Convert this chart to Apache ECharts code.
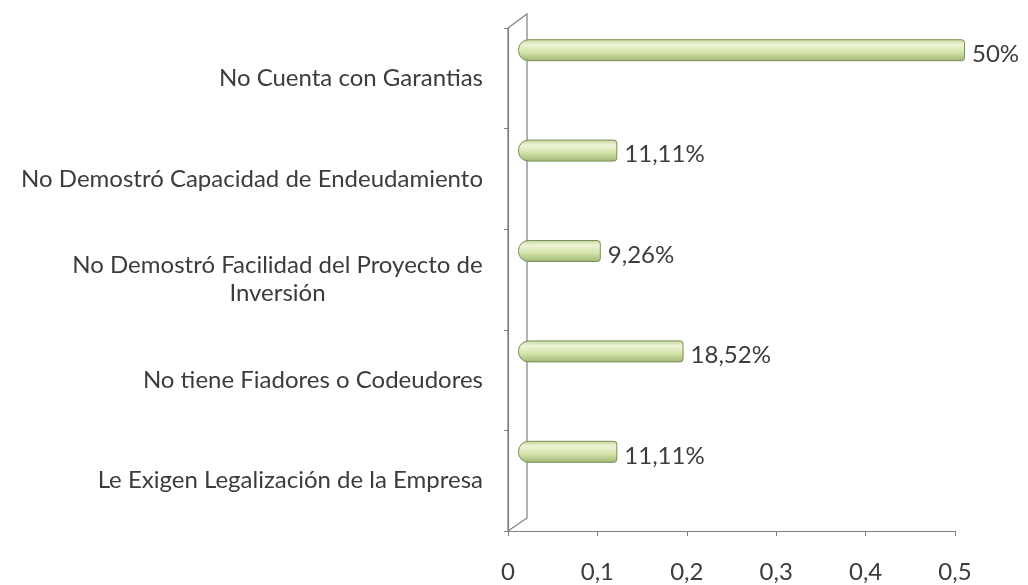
<!DOCTYPE html>
<html>
<head>
<meta charset="utf-8">
<script src="https://cdn.jsdelivr.net/npm/echarts@6/dist/echarts.min.js"></script>
<style>
  html, body { margin: 0; padding: 0; background: #fff; }
  #chart { width: 1028px; height: 585px; }
</style>
</head>
<body>
<div id="chart"></div>
<script>
// categories, top to bottom
const categories = [
  "No Cuenta con Garantias",
  "No Demostró Capacidad de Endeudamiento",
  "No Demostró Facilidad del Proyecto de\nInversión",
  "No tiene Fiadores o Codeudores",
  "Le Exigen Legalización de la Empresa"
];
const values = [0.5, 0.1111, 0.0926, 0.1852, 0.1111];
const tickValues = [0, 0.1, 0.2, 0.3, 0.4, 0.5];
const tickLabels = ["0", "0,1", "0,2", "0,3", "0,4", "0,5"];

const FONT = "Lato";
const FS = 24;
const TEXT = "#3c3c3c";
const AXIS = "#7f7f7f";

var chartDom = document.getElementById("chart");
var myChart = echarts.init(chartDom);
var option;

// measure first line of wrapped labels so the lines can be centred
function textWidth(s, size) {
  var c = document.createElement("canvas").getContext("2d");
  c.font = size + "px " + FONT;
  return Math.ceil(c.measureText(s).width);
}

function pct(v) {
  var p = Math.round(v * 10000) / 100;
  return (Number.isInteger(p) ? String(p) : p.toFixed(2)).replace(".", ",") + "%";
}

option = {
  animation: false,
  backgroundColor: "#fff",
  textStyle: { fontFamily: FONT },
  grid: [
    // front plane: visible axes
    { left: 508, top: 28, width: 447, height: 503 },
    // back plane: the bars
    { left: 518, top: 0, width: 447, height: 502 }
  ],
  graphic: [
    {
      // 3d side wall
      type: "polyline",
      shape: { points: [[508, 531], [508, 28], [527, 14], [527, 518], [508, 531]] },
      style: { stroke: AXIS, lineWidth: 1.2, fill: null },
      silent: true
    }
  ],
  xAxis: [
    {
      gridIndex: 0,
      type: "value",
      min: 0,
      max: 0.5,
      interval: 0.1,
      axisLine: { show: true, lineStyle: { color: AXIS, width: 1.2 } },
      axisTick: { show: true, length: 5, lineStyle: { color: AXIS } },
      splitLine: { show: false },
      axisLabel: {
        color: TEXT,
        fontSize: FS,
        margin: 29,
        formatter: function (v) {
          var i = tickValues.findIndex(function (t) { return Math.abs(t - v) < 1e-9; });
          return i >= 0 ? tickLabels[i] : "";
        }
      }
    },
    {
      gridIndex: 1,
      type: "value",
      min: 0,
      max: 0.5,
      show: false
    }
  ],
  yAxis: [
    {
      gridIndex: 0,
      type: "category",
      inverse: true,
      data: categories,
      axisLine: { show: true, lineStyle: { color: AXIS, width: 1.2 } },
      axisTick: { show: true, length: 4, lineStyle: { color: AXIS } },
      axisLabel: {
        color: TEXT,
        fontSize: FS,
        margin: 25,
        lineHeight: 28,
        formatter: function (v) {
          var parts = v.split("\n");
          if (parts.length < 2) return v;
          return parts.map(function (p) { return "{c|" + p + "}"; }).join("\n");
        },
        rich: {
          c: {
            width: textWidth(categories[2].split("\n")[0], FS),
            align: "center",
            fontSize: FS,
            lineHeight: 28,
            color: TEXT,
            fontFamily: FONT
          }
        }
      }
    },
    {
      gridIndex: 1,
      type: "category",
      inverse: true,
      data: categories,
      show: false
    }
  ],
  series: [
    {
      type: "bar",
      xAxisIndex: 1,
      yAxisIndex: 1,
      data: values,
      barWidth: 22,
      itemStyle: {
        color: {
          type: "linear",
          x: 0, y: 0, x2: 0, y2: 1,
          colorStops: [
            { offset: 0, color: "#c3d59a" },
            { offset: 0.25, color: "#edf4d6" },
            { offset: 0.6, color: "#d3e3a8" },
            { offset: 1, color: "#9fb675" }
          ]
        },
        borderColor: "#7a8f55",
        borderWidth: 1,
        borderRadius: [10, 3, 3, 10]
      },
      label: {
        show: true,
        position: "right",
        distance: 7,
        offset: [0, 4],
        color: TEXT,
        fontSize: FS,
        fontFamily: FONT,
        formatter: function (p) { return pct(p.value); }
      }
    }
  ]
};

option && myChart.setOption(option);

window.addEventListener("resize", () => {
  if (myChart != null && myChart != undefined) {
    myChart.resize();
  }
});
</script>
</body>
</html>
